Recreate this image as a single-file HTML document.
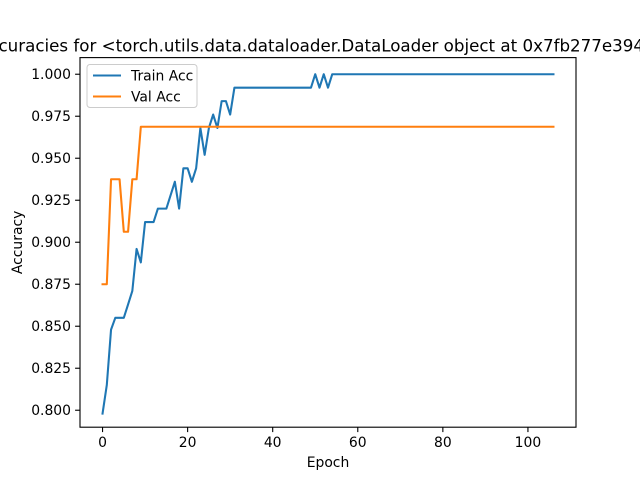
<!DOCTYPE html>
<html><head><meta charset="utf-8"><style>
html,body{margin:0;padding:0;background:#fff;}
svg{display:block;font-family:"DejaVu Sans","Liberation Sans",sans-serif;}
</style></head><body>
<svg id="chart" width="640" height="480" viewBox="0 0 640 480">
<rect x="0" y="0" width="640" height="480" fill="#fff"/>
<text x="328" y="51.5" font-size="16.7" text-anchor="middle" fill="#000">Accuracies for &lt;torch.utils.data.dataloader.DataLoader object at 0x7fb277e394c0&gt;</text>
<g id="plot"></g>
</svg>
<script>
const trainAcc = [0.798,0.815,0.848,0.855,0.855,0.855,0.863,0.871,0.896,0.888,0.912,0.912,0.912,0.920,0.920,0.920,0.928,0.936,0.920,0.944,0.944,0.936,0.944,0.968,0.952,0.968,0.976,0.968,0.984,0.984,0.976,0.992,
0.992,0.992,0.992,0.992,0.992,0.992,0.992,0.992,0.992,0.992,0.992,0.992,0.992,0.992,0.992,0.992,0.992,0.992,
1.0,0.992,1.0,0.992];
const valAcc = [0.875,0.875,0.9375,0.9375,0.9375,0.90625,0.90625,0.9375,0.9375];
const nEpochs = 107;
const trainTail = 1.0;
const valTail = 0.96875;
const xTicks = [0,20,40,60,80,100];
const yTicks = [0.800,0.825,0.850,0.875,0.900,0.925,0.950,0.975,1.000];
const seriesNames = ["Train Acc","Val Acc"];

const trainFull = trainAcc.slice(); while (trainFull.length < nEpochs) trainFull.push(trainTail);
const valFull = valAcc.slice(); while (valFull.length < nEpochs) valFull.push(valTail);

const L=80,R=576,T=57.6,B=427.2;
const xmin=-5.3,xmax=111.3,ymin=0.7899,ymax=1.0099;
const sx=v=>L+(v-xmin)/(xmax-xmin)*(R-L);
const sy=v=>B-(v-ymin)/(ymax-ymin)*(B-T);
const NS="http://www.w3.org/2000/svg";
const g=document.getElementById('plot');
function mk(tag,attrs,parent){const e=document.createElementNS(NS,tag);for(const k in attrs)e.setAttribute(k,attrs[k]);(parent||g).appendChild(e);return e;}

const colors=["#1f77b4","#ff7f0e"];
[trainFull,valFull].forEach((arr,si)=>{
  const d=arr.map((v,i)=>(i?"L":"M")+sx(i).toFixed(2)+","+sy(v).toFixed(2)).join("");
  const p=mk('path',{d:d,fill:"none",stroke:colors[si],"stroke-width":2.08,"stroke-linejoin":"round","stroke-linecap":"square"});
  
  
});

const fr=mk('rect',{x:L,y:T,width:R-L,height:B-T,fill:"none",stroke:"#000","stroke-width":1.11});



xTicks.forEach(t=>{
  const x=sx(t);
  const tk=mk('line',{x1:x,x2:x,y1:B,y2:B+4.9,stroke:"#000","stroke-width":1.11});
  
  
  const tx=mk('text',{x:x,y:B+20,"font-size":13.9,"text-anchor":"middle",fill:"#000"});
  tx.textContent=t;
  
  
});
yTicks.forEach(t=>{
  const y=sy(t);
  const tk=mk('line',{x1:L-4.9,x2:L,y1:y,y2:y,stroke:"#000","stroke-width":1.11});
  
  
  const tx=mk('text',{x:L-9,y:y+5,"font-size":13.9,"text-anchor":"end",fill:"#000"});
  tx.textContent=t.toFixed(3);
  
  
});
const xl=mk('text',{x:(L+R)/2,y:467,"font-size":13.9,"text-anchor":"middle",fill:"#000"});
xl.textContent="Epoch";


const yl=mk('text',{x:0,y:0,"font-size":13.9,"text-anchor":"middle",fill:"#000",transform:"translate(22,"+((T+B)/2)+") rotate(-90)"});
yl.textContent="Accuracy";



const lg=mk('g',{});


mk('rect',{x:87,y:64.5,width:110,height:43,rx:3,fill:"#fff","fill-opacity":0.8,stroke:"#ccc","stroke-width":1},lg);
seriesNames.forEach((n,i)=>{
  const y=75.5+i*21;
  const ln=mk('line',{x1:93,x2:121,y1:y,y2:y,stroke:colors[i],"stroke-width":2.08},lg);
  
  
  const tx=mk('text',{x:131,y:y+5,"font-size":13.9,fill:"#000"},lg);
  tx.textContent=n;
  
  
});
</script>
</body></html>
